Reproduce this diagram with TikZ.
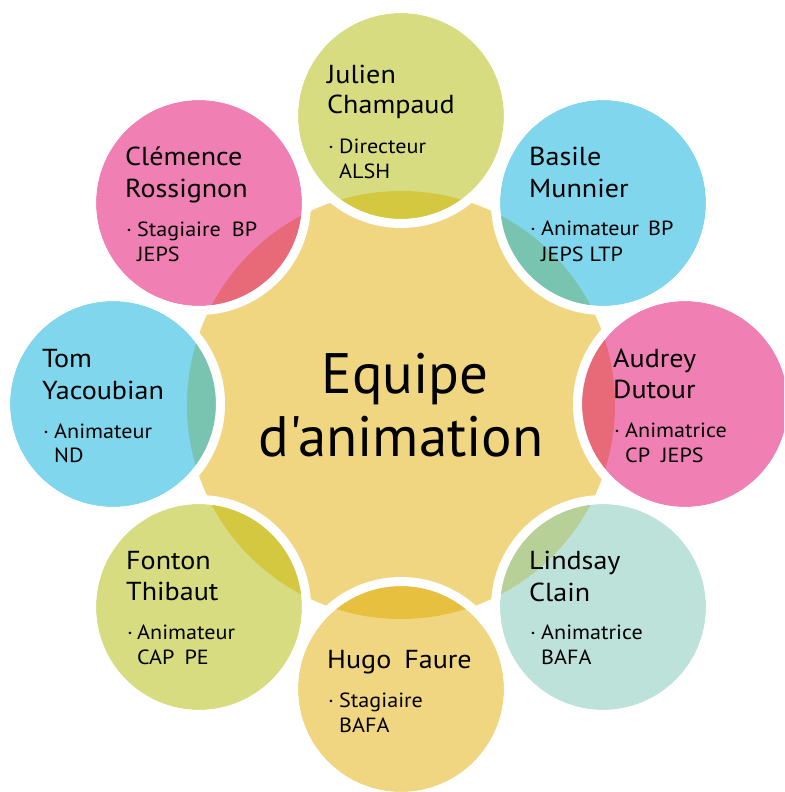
\documentclass[tikz,border=0pt]{standalone}
\usepackage{fontspec}
\setmainfont{PT Sans}[Ligatures=TeXOff]
\newfontfamily\circfont{PT Sans}[Ligatures=TeXOff,FakeStretch=1.08]
\definecolor{discY}{RGB}{240,214,128}
\definecolor{olC}{RGB}{216,220,128}
\definecolor{olO}{RGB}{212,200,64}
\definecolor{pkC}{RGB}{240,128,180}
\definecolor{pkO}{RGB}{232,106,120}
\definecolor{blC}{RGB}{128,214,236}
\definecolor{blO}{RGB}{120,196,176}
\definecolor{tqC}{RGB}{188,226,218}
\definecolor{tqO}{RGB}{182,208,152}
\definecolor{yeC}{RGB}{240,214,128}
\definecolor{yeO}{RGB}{232,192,64}
\tikzset{
  nm/.style={anchor=base west, inner sep=0pt, text=black, font=\circfont\fontsize{26}{30}\selectfont},
  bl/.style={anchor=base west, inner sep=0pt, text=black, font=\circfont\fontsize{20.5}{25}\selectfont},
  ctr/.style={anchor=base, inner sep=0pt, text=black, font=\fontsize{57}{63}\selectfont},
  ring/.style={draw=white, line width=9pt}
}
\newcommand{\bubble}[3]{%
  \fill[#2] (#1) circle (103pt);
  \begin{scope}
    \clip (#1) circle (103pt);
    \fill[#3] (dc) circle (214pt);
  \end{scope}
  \draw[ring] (#1) circle (107.5pt);
}
\begin{document}
\begin{tikzpicture}[x=1pt,y=-1pt]
\useasboundingbox (0,0) rectangle (784,792);
\clip (0,0) rectangle (784,792);
\coordinate (dc) at (401,405);
\coordinate (cJ) at (401,116);
\coordinate (cB) at (603,203);
\coordinate (cA) at (685,404);
\coordinate (cL) at (603,607);
\coordinate (cH) at (401,689);
\coordinate (cF) at (199,607);
\coordinate (cT) at (113,404);
\coordinate (cC) at (199,203);
\fill[discY] (dc) circle (214pt);
\bubble{cJ}{olC}{olO}
\bubble{cB}{blC}{blO}
\bubble{cA}{pkC}{pkO}
\bubble{cL}{tqC}{tqO}
\bubble{cH}{yeC}{yeO}
\bubble{cF}{olC}{olO}
\bubble{cT}{blC}{blO}
\bubble{cC}{pkC}{pkO}
% centre
\node[ctr] (ct1) at (405,393) {Equipe};
\node[ctr] (ct2) at (401,456) {d'animation};
% Julien
\node[nm] (j1) at (327,83) {Julien};
\node[nm] (j2) at (327,113) {Champaud};
\node[bl] (jd) at (328,153) {·};
\node[bl] (j3) at (339,153) {Directeur};
\node[bl] (j4) at (339,178) {ALSH};
% Clemence
\node[nm] (c1) at (125,165) {Clémence};
\node[nm] (c2) at (125,197) {Rossignon};
\node[bl] (cd) at (126,236) {·};
\node[bl] (c3) at (137,236) {Stagiaire\hspace{11pt}BP};
\node[bl] (c4) at (137,261) {JEPS};
% Basile
\node[nm] (b1) at (529,165) {Basile};
\node[nm] (b2) at (529,197) {Munnier};
\node[bl] (bd) at (530,235) {·};
\node[bl] (b3) at (541,235) {Animateur\hspace{9pt}BP};
\node[bl] (b4) at (541,261) {JEPS LTP};
% Tom
\node[nm] (t1) at (42,367) {Tom};
\node[nm] (t2) at (42,399) {Yacoubian};
\node[bl] (td) at (43,438) {·};
\node[bl] (t3) at (54,438) {Animateur};
\node[bl] (t4) at (54,462) {ND};
% Audrey
\node[nm] (a1) at (613,367) {Audrey};
\node[nm] (a2) at (613,398) {Dutour};
\node[bl] (ad) at (614,437) {·};
\node[bl] (a3) at (625,437) {Animatrice};
\node[bl] (a4) at (625,462) {CP\hspace{11pt}JEPS};
% Fonton
\node[nm] (f1) at (126,569) {Fonton};
\node[nm] (f2) at (126,600) {Thibaut};
\node[bl] (fd) at (127,639) {·};
\node[bl] (f3) at (137,639) {Animateur};
\node[bl] (f4) at (137,664) {CAP\hspace{10pt}PE};
% Lindsay
\node[nm] (l1) at (529,569) {Lindsay};
\node[nm] (l2) at (529,601) {Clain};
\node[bl] (ld) at (530,639) {·};
\node[bl] (l3) at (541,639) {Animatrice};
\node[bl] (l4) at (541,664) {BAFA};
% Hugo
\node[nm] (h1) at (327,668) {Hugo\hspace{13pt}Faure};
\node[bl] (hd) at (328,707) {·};
\node[bl] (h2) at (339,707) {Stagiaire};
\node[bl] (h3) at (339,732) {BAFA};
\end{tikzpicture}
\end{document}
